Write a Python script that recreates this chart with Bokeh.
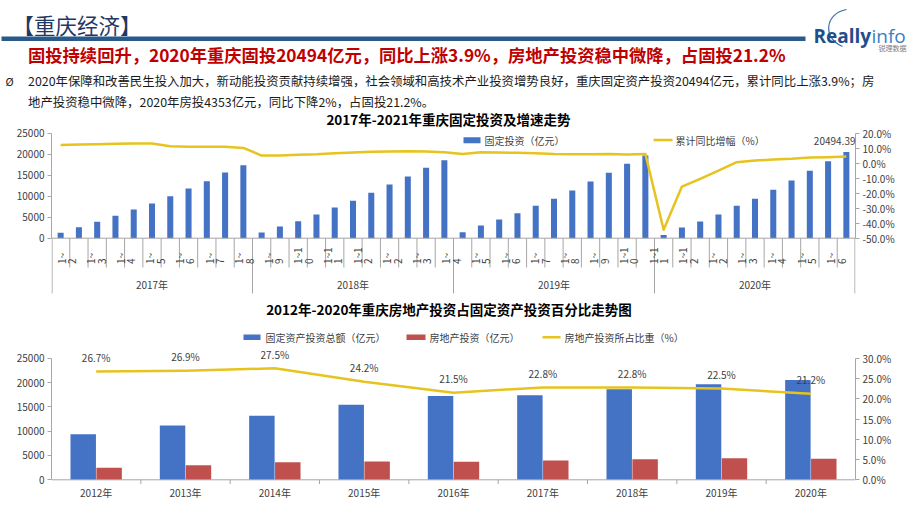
import math
from bokeh.plotting import figure
from bokeh.models import (Range1d, LinearAxis, FixedTicker, NumeralTickFormatter, Spacer,
                          Span, Label, LabelSet, ColumnDataSource, BoxAnnotation)
from bokeh.layouts import column, row
from bokeh.embed import file_html
from bokeh.resources import INLINE
from bokeh.core.properties import value

FONT = "Noto Sans CJK SC"
LOGO_FONT = "Open Sans"

# ---------------- data ----------------
header_title = "【重庆经济】"
headline = "固投持续回升，2020年重庆固投20494亿元，同比上涨3.9%，房地产投资稳中微降，占固投21.2%"
para_line1 = "2020年保障和改善民生投入加大，新动能投资贡献持续增强，社会领域和高技术产业投资增势良好，重庆固定资产投资20494亿元，累计同比上涨3.9%；房"
para_line2 = "地产投资稳中微降，2020年房投4353亿元，同比下降2%，占固投21.2%。"

top_title = "2017年-2021年重庆固定投资及增速走势"
top_bar_name = "固定投资（亿元）"
top_line_name = "累计同比增幅（%）"
top_years = ["2017年", "2018年", "2019年", "2020年"]
top_month_labels = ["1~2", "1~3", "1~4", "1~5", "1~6", "1~7", "1~8", "1~9", "1~10", "1~11", "1~12"]
fai_2017 = [1290, 2620, 3890, 5320, 6830, 8260, 10000, 11830, 13580, 15640, 17390]
fai_2018 = [1350, 2780, 4050, 5640, 7300, 8890, 10800, 12780, 14690, 16750, 18580]
fai_2019 = [1430, 3020, 4450, 5960, 7700, 9370, 11350, 13500, 15600, 17700, 19690]
fai_2020 = [790, 2540, 3970, 5640, 7700, 9370, 11510, 13740, 16040, 18340, 20494.39]
growth_2017 = [12.2, 12.4, 12.7, 12.9, 13.1, 13.1, 11.3, 10.9, 10.9, 10.9, 10.2]
growth_2018 = [5.1, 5.1, 5.6, 6.0, 6.7, 7.1, 7.6, 7.8, 8.0, 7.8, 7.3]
growth_2019 = [6.2, 7.3, 7.1, 6.9, 6.7, 6.2, 6.0, 6.0, 6.2, 5.8, 6.2]
growth_2020 = [-44.4, -15.6, -10.4, -4.9, 0.7, 1.8, 2.4, 2.9, 3.8, 4.0, 4.4]
top_left_ticks = [0, 5000, 10000, 15000, 20000, 25000]
top_right_ticks = [-0.5, -0.4, -0.3, -0.2, -0.1, 0.0, 0.1, 0.2]

bot_title = "2012年-2020年重庆房地产投资占固定资产投资百分比走势图"
bot_names = ["固定资产投资总额（亿元）", "房地产投资（亿元）", "房地产投资所占比重（%）"]
bot_years = ["2012年", "2013年", "2014年", "2015年", "2016年", "2017年", "2018年", "2019年", "2020年"]
fai_total = [9350, 11180, 13180, 15450, 17250, 17380, 18600, 19650, 20494]
re_invest = [2480, 3000, 3620, 3740, 3710, 3960, 4230, 4420, 4353]
re_share = [26.7, 26.9, 27.5, 24.2, 21.5, 22.8, 22.8, 22.5, 21.2]
bot_left_ticks = [0, 5000, 10000, 15000, 20000, 25000]
bot_right_ticks = [0.0, 0.05, 0.10, 0.15, 0.20, 0.25, 0.30]

# ---------------- styles ----------------
BLUE = "#4472C4"
RED = "#C0504D"
YELLOW = "#E6C31E"
GREY = "#A6A6A6"
TXT = "#404040"
W = 920
F_L, F_R = 51, 855          # chart frames (page px)


def style_axis(ax):
    ax.axis_line_color = GREY
    ax.major_tick_line_color = GREY
    ax.major_tick_in = 0
    ax.major_tick_out = 4
    ax.minor_tick_line_color = None
    ax.major_label_text_font = FONT
    ax.major_label_text_font_size = "10px"
    ax.major_label_text_color = TXT
    ax.major_label_standoff = 3


def base_fig(width, height, xr, yr, left, right):
    p = figure(width=width, height=height, x_range=xr, y_range=yr,
               output_backend="svg", toolbar_location=None,
               x_axis_location=None, y_axis_location=None,
               min_border_left=left, min_border_right=right,
               min_border_top=0, min_border_bottom=0)
    p.outline_line_color = None
    p.background_fill_color = "white"
    p.border_fill_color = "white"
    p.grid.visible = False
    return p


def txt_label(p, x, y, text, size, color=TXT, bold=False, align="left", font=FONT, **kw):
    p.add_layout(Label(x=x, y=y, text=text, text_font=font, text_font_size=size,
                       text_color=color, text_font_style="bold" if bold else "normal",
                       text_align=align, text_baseline="middle", **kw))

# ---------------- header (page px coords) ----------------
hdr = base_fig(W - 2, 110, Range1d(1, W - 1), Range1d(110, 0), 0, 0)
txt_label(hdr, 12, 23.5, header_title, "21.5px", color="#1F3864")
hdr.add_layout(BoxAnnotation(left=0, right=805, top=36, bottom=40.5,
                             fill_color="#2A5A8C", fill_alpha=1, line_color=None))
txt_label(hdr, 27.5, 53.5, headline, "17.3px", color="#C00000", bold=True)
txt_label(hdr, 5, 80, "Ø", "11px", color="#222222")
txt_label(hdr, 27.5, 80, para_line1, "12.4px", color="#1A1A1A")
txt_label(hdr, 27.5, 101, para_line2, "12.4px", color="#1A1A1A")
hdr.add_layout(Label(x=813, y=35, text="Really", text_font=LOGO_FONT, text_font_size="19px",
                     text_font_style="bold", text_color="#1F4E8C", text_baseline="alphabetic"))
hdr.add_layout(Label(x=871, y=35, text="info", text_font=LOGO_FONT, text_font_size="19px",
                     text_color="#3A7FC0", text_baseline="alphabetic"))
txt_label(hdr, 878, 47, "锐理数据", "7px", color="#808080")
hdr.bezier(x0=[846], y0=[9], x1=[842], y1=[46], cx0=[824], cy0=[13], cx1=[822], cy1=[38],
           line_color="#3B6FA8", line_width=1.2)

# ---------------- top chart ----------------
T_Y0, T_TOP, T_BOT = 237.7, 110, 298
top_fai = fai_2017 + fai_2018 + fai_2019 + fai_2020
top_growth = growth_2017 + growth_2018 + growth_2019 + growth_2020
n_top = len(top_fai)
per_year = len(fai_2017)
slot = (F_R - F_L) / n_top


def tx(px):
    return (px - F_L) / slot


def ty(px):
    return (T_Y0 - px) / 105.0 * 25000


def tp(px):
    return (T_Y0 - px) / 105.0 * 0.70 - 0.50


top = base_fig(W, T_BOT - T_TOP, Range1d(0, n_top), Range1d(ty(T_BOT), ty(T_TOP)), F_L, W - F_R)
top.extra_y_ranges = {"pct": Range1d(tp(T_BOT), tp(T_TOP))}

ax = LinearAxis(ticker=FixedTicker(ticks=top_left_ticks), formatter=NumeralTickFormatter(format="0"),
                bounds=(top_left_ticks[0], top_left_ticks[-1]))
style_axis(ax)
top.add_layout(ax, "left")
ax2 = LinearAxis(y_range_name="pct", ticker=FixedTicker(ticks=top_right_ticks),
                 formatter=NumeralTickFormatter(format="0.0%"),
                 bounds=(top_right_ticks[0], top_right_ticks[-1]))
style_axis(ax2)
top.add_layout(ax2, "right")

centers = [i + 0.5 for i in range(n_top)]
top.vbar(x=centers, top=top_fai, width=0.33, fill_color=BLUE, line_color=None)
top.add_layout(Span(location=0, dimension="width", line_color=GREY, line_width=1))

sep_x, sep_y = [], []
for i in range(n_top + 1):
    sep_x.append(min(max(i, 0.03), n_top - 0.03))
    sep_y.append(ty(293) if i % per_year == 0 else ty(267))
top.segment(x0=sep_x, y0=[0] * len(sep_x), x1=sep_x, y1=sep_y, line_color=GREY, line_width=1)

top.line(centers, [g / 100 for g in top_growth], y_range_name="pct",
         line_color=YELLOW, line_width=2.5, line_join="round")

# month labels, spread as in the original export (those past the frame are not shown)
all_months = top_month_labels * len(top_years)
LBL0, LBL_STEP, LBL_COL2 = tx(60.5), 29.6 / slot, 11.0 / slot
lx, ly, lt = [], [], []
for k, t in enumerate(all_months):
    x0 = LBL0 + k * LBL_STEP
    if x0 + LBL_COL2 > n_top:
        break
    lx += [x0, x0 + LBL_COL2]
    ly += [ty(263.5), ty(263.5)]
    lt += [t[:-1], t[-1]]
top.add_layout(LabelSet(x="x", y="y", text="text", source=ColumnDataSource(dict(x=lx, y=ly, text=lt)),
                        angle=math.pi / 2, text_align="left", text_baseline="middle",
                        text_font=value(FONT), text_font_size="10px", text_color=TXT))
yr_src = ColumnDataSource(dict(x=[g * per_year + per_year / 2 for g in range(len(top_years))],
                               y=[ty(284)] * len(top_years), text=top_years))
top.add_layout(LabelSet(x="x", y="y", text="text", source=yr_src, text_align="center",
                        text_baseline="middle", text_font=value(FONT), text_font_size="10px",
                        text_color=TXT))

top.add_layout(Label(x=n_top, y=top_fai[-1], y_offset=11.5, text=f"{top_fai[-1]:.2f}",
                     text_font=FONT, text_font_size="10px", text_color=TXT,
                     text_align="right", text_baseline="middle"))

txt_label(top, tx(448), ty(118), top_title, "13.5px", color="#000000", bold=True, align="center")
top.add_layout(BoxAnnotation(left=tx(463), right=tx(480), top=ty(136.7), bottom=ty(142.7),
                             fill_color=BLUE, fill_alpha=1, line_color=None))
txt_label(top, tx(484), ty(139.8), top_bar_name, "10px")
top.add_layout(BoxAnnotation(left=tx(653), right=tx(672), top=ty(138.2), bottom=ty(140.7),
                             fill_color=YELLOW, fill_alpha=1, line_color=None))
txt_label(top, tx(675), ty(139.8), top_line_name, "10px")

# ---------------- bottom chart ----------------
B_Y0, B_TOP, B_BOT = 479.3, 298, 518
n_bot = len(bot_years)


def bx(px):
    return (px - F_L) / (F_R - F_L) * n_bot


def by(px):
    return (B_Y0 - px) / 121.6 * 25000


def bp(px):
    return (B_Y0 - px) / 121.6 * 0.30


bot = base_fig(W, B_BOT - B_TOP, Range1d(0, n_bot), Range1d(by(B_BOT), by(B_TOP)), F_L, W - F_R)
bot.extra_y_ranges = {"pct": Range1d(bp(B_BOT), bp(B_TOP))}
bax = LinearAxis(ticker=FixedTicker(ticks=bot_left_ticks), formatter=NumeralTickFormatter(format="0"),
                 bounds=(bot_left_ticks[0], bot_left_ticks[-1]))
style_axis(bax)
bot.add_layout(bax, "left")
bax2 = LinearAxis(y_range_name="pct", ticker=FixedTicker(ticks=bot_right_ticks),
                  formatter=NumeralTickFormatter(format="0.0%"),
                  bounds=(bot_right_ticks[0], bot_right_ticks[-1]))
style_axis(bax2)
bot.add_layout(bax2, "right")

bc = [i + 0.5 for i in range(n_bot)]
bot.vbar(x=[c - 0.145 for c in bc], top=fai_total, width=0.285, fill_color=BLUE, line_color=None)
bot.vbar(x=[c + 0.145 for c in bc], top=re_invest, width=0.285, fill_color=RED, line_color=None)
bot.add_layout(Span(location=0, dimension="width", line_color=GREY, line_width=1))
bt = [float(i) for i in range(1, n_bot)]
bot.segment(x0=bt, y0=[0] * len(bt), x1=bt, y1=[by(483.5)] * len(bt), line_color=GREY, line_width=1)

bot.line(bc, [s / 100 for s in re_share], y_range_name="pct", line_color=YELLOW, line_width=2.5,
         line_join="round")
bot.add_layout(LabelSet(x="x", y="y", text="text", y_range_name="pct",
                        source=ColumnDataSource(dict(x=bc, y=[s / 100 for s in re_share],
                                                     text=[f"{s:.1f}%" for s in re_share])),
                        y_offset=14, text_align="center", text_baseline="middle",
                        text_font=value(FONT), text_font_size="10px", text_color=TXT))
bot.add_layout(LabelSet(x="x", y="y", text="text",
                        source=ColumnDataSource(dict(x=bc, y=[by(491.7)] * n_bot, text=bot_years)),
                        text_align="center", text_baseline="middle",
                        text_font=value(FONT), text_font_size="10px", text_color=TXT))

txt_label(bot, bx(448.5), by(308), bot_title, "13.5px", color="#000000", bold=True, align="center")
bot.add_layout(BoxAnnotation(left=bx(243), right=bx(260), top=by(334), bottom=by(339.5),
                             fill_color=BLUE, fill_alpha=1, line_color=None))
txt_label(bot, bx(265), by(337), bot_names[0], "10px")
bot.add_layout(BoxAnnotation(left=bx(406), right=bx(425), top=by(334), bottom=by(339.5),
                             fill_color=RED, fill_alpha=1, line_color=None))
txt_label(bot, bx(429), by(337), bot_names[1], "10px")
bot.add_layout(BoxAnnotation(left=bx(542), right=bx(560), top=by(335.5), bottom=by(338),
                             fill_color=YELLOW, fill_alpha=1, line_color=None))
txt_label(bot, bx(564), by(337), bot_names[2], "10px")

layout = column(row(Spacer(width=1, height=110), hdr), top, bot)
open("out.html", "w").write(file_html(layout, INLINE))
